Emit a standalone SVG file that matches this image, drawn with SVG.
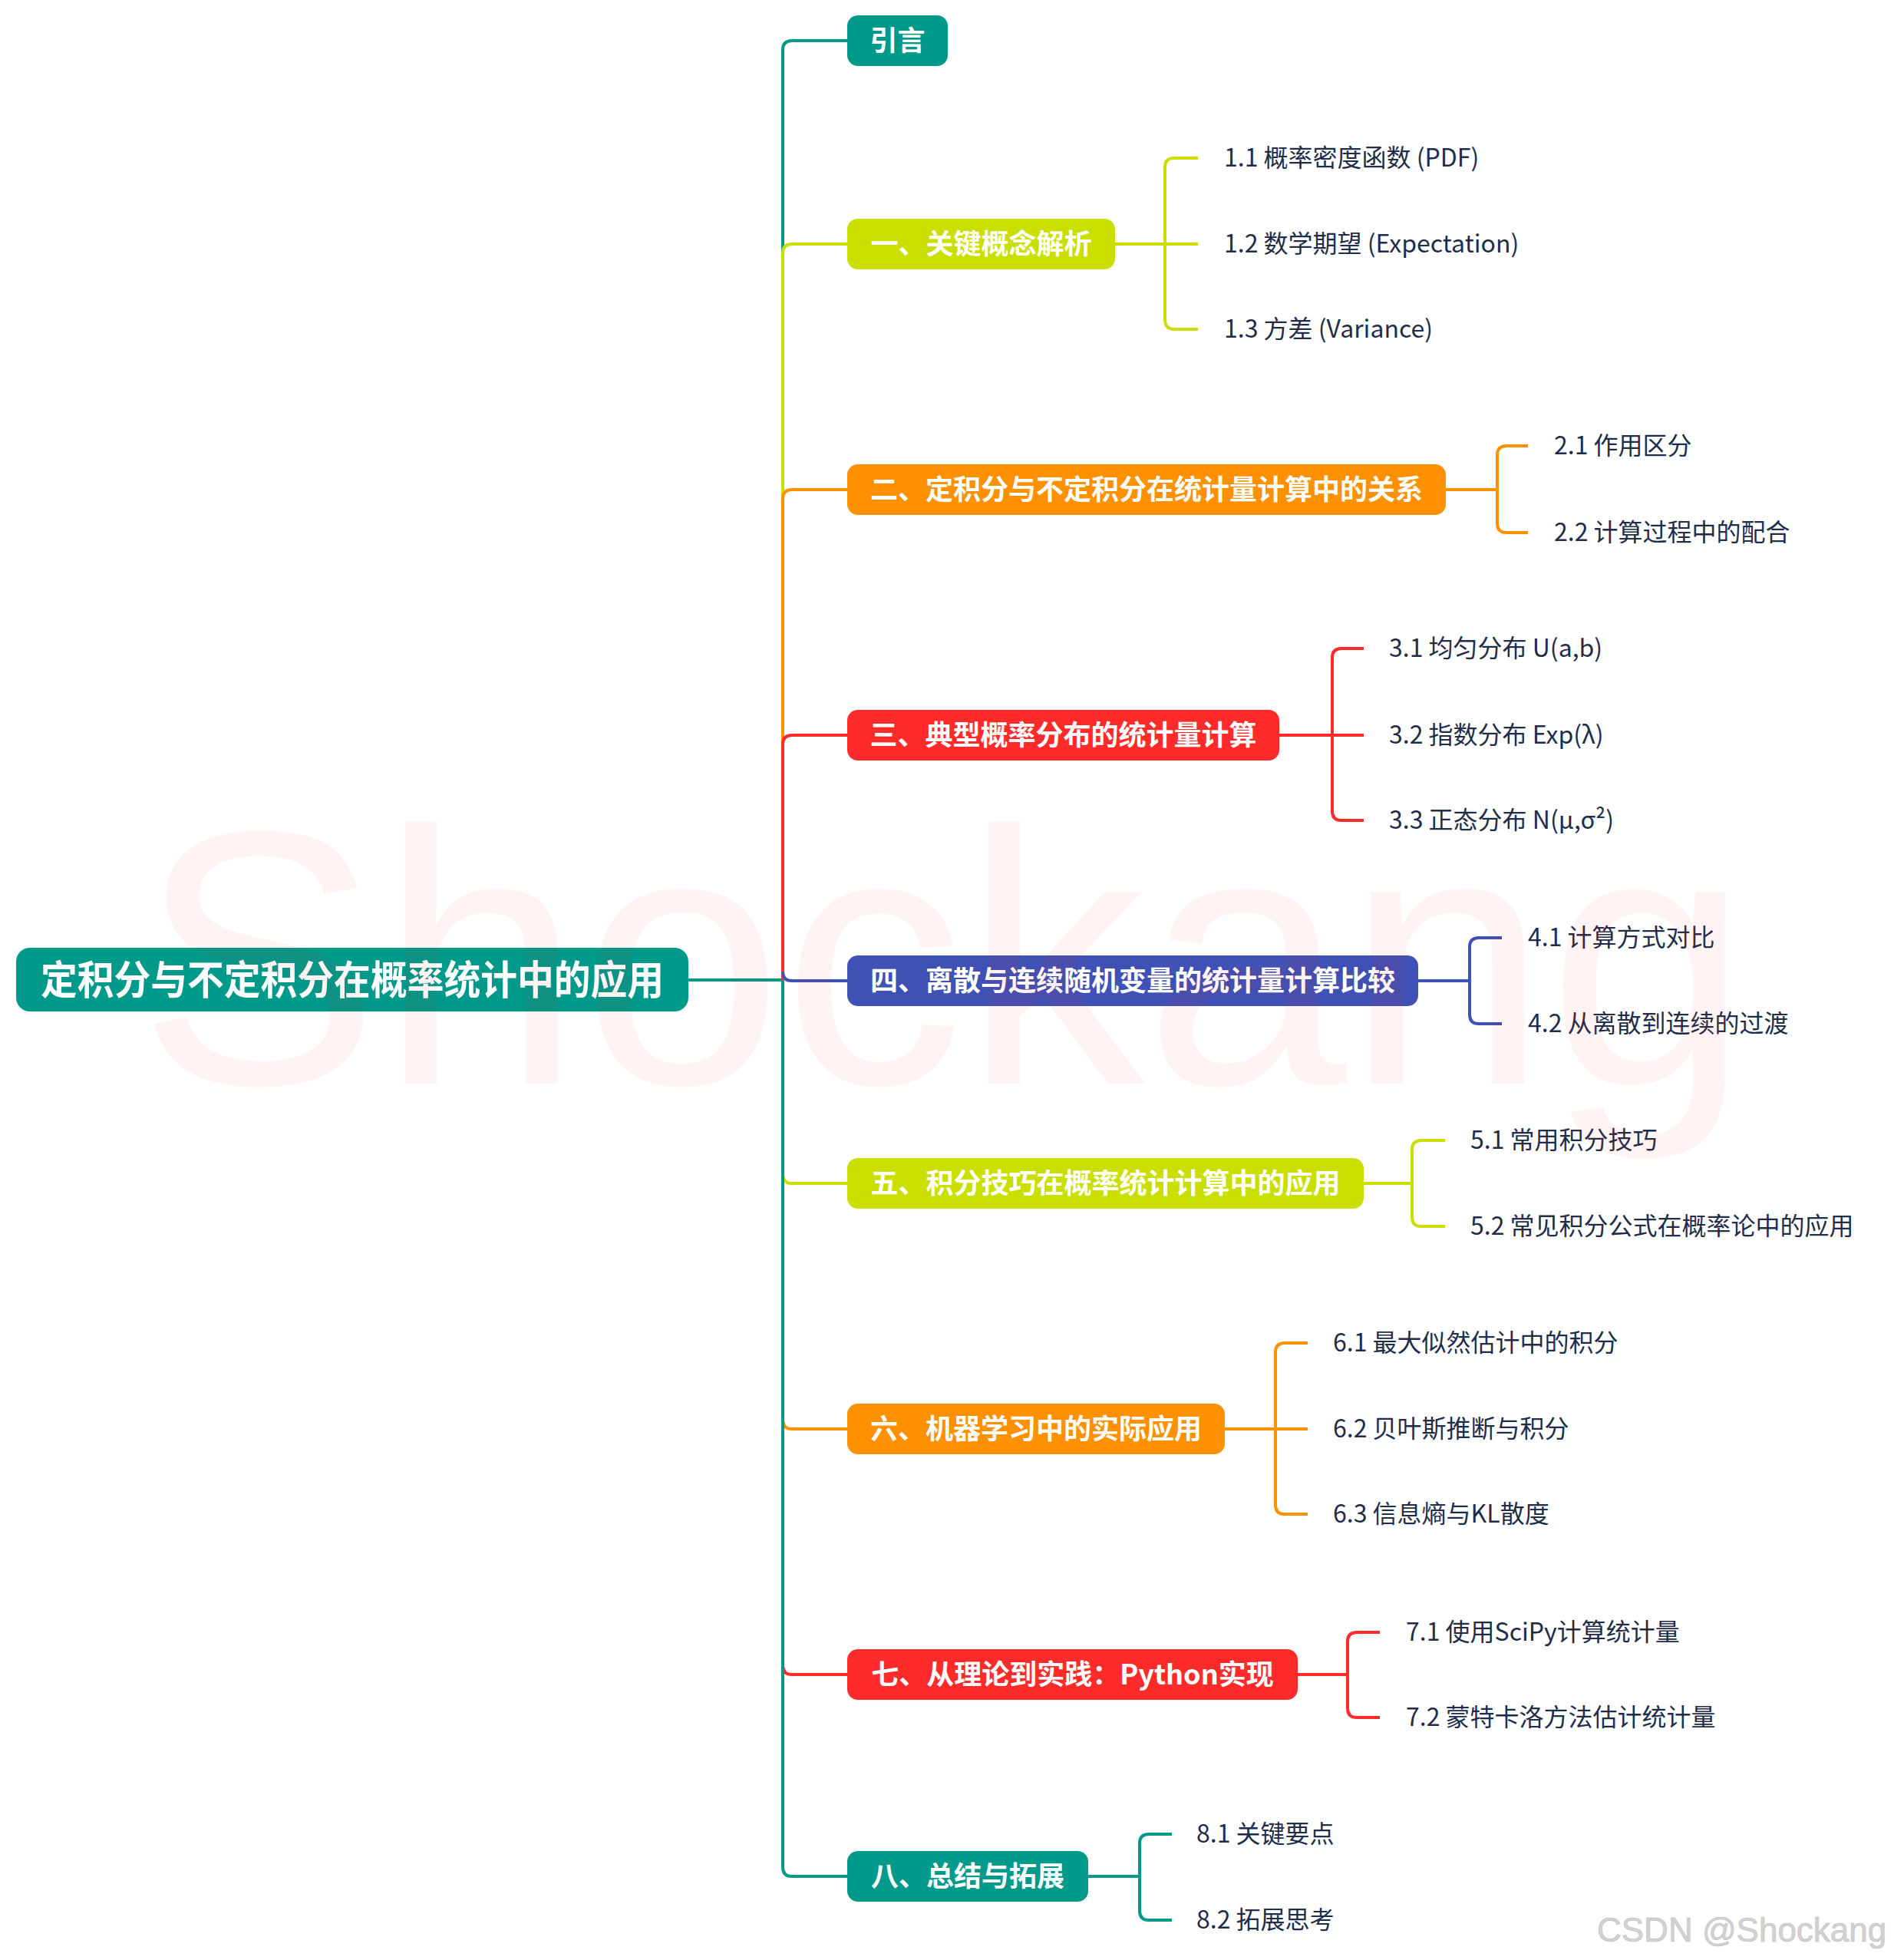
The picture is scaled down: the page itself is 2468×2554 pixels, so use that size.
<svg xmlns="http://www.w3.org/2000/svg" width="2468" height="2554" viewBox="0 0 2468 2554">
<style>
.box text{font-family:"Noto Sans CJK SC","Noto Sans",sans-serif;font-weight:700;fill:#fff;text-anchor:middle}
.t{font-family:"Noto Sans CJK SC","Noto Sans",sans-serif;font-size:32px;fill:#1f2d4a}
.c{fill:none;stroke-width:4;stroke-linecap:butt;stroke-linejoin:round}
.teal{stroke:#00998a}.lime{stroke:#cadf00}.orange{stroke:#ff9000}.red{stroke:#ff2b2b}.blue{stroke:#3f51b5}
</style>
<rect width="2468" height="2554" fill="#fff"/>
<g id="connectors">
<path class="c teal" d="M897 1277H1020"/>
<path class="c teal" d="M1020 1277V65Q1020 53 1032 53H1104"/>
<path class="c lime" d="M1020 1277V330Q1020 318 1032 318H1104"/>
<path class="c orange" d="M1020 1277V650Q1020 638 1032 638H1104"/>
<path class="c red" d="M1020 1277V970Q1020 958 1032 958H1104"/>
<path class="c blue" d="M1020 1266Q1020 1278 1032 1278H1104"/>
<path class="c lime" d="M1020 1277V1530Q1020 1542 1032 1542H1104"/>
<path class="c orange" d="M1020 1277V1850Q1020 1862 1032 1862H1104"/>
<path class="c red" d="M1020 1277V2170Q1020 2182 1032 2182H1104"/>
<path class="c teal" d="M1020 1277V2433Q1020 2445 1032 2445H1104"/>
<path class="c lime" d="M1453 318H1561M1561 206H1530Q1518 206 1518 218V417Q1518 429 1530 429H1561"/>
<path class="c orange" d="M1884 638H1951M1991 581H1963Q1951 581 1951 593V682Q1951 694 1963 694H1991"/>
<path class="c red" d="M1667 958H1777M1777 845H1748Q1736 845 1736 857V1057Q1736 1069 1748 1069H1777"/>
<path class="c blue" d="M1848 1278H1915M1957 1222H1927Q1915 1222 1915 1234V1322Q1915 1334 1927 1334H1957"/>
<path class="c lime" d="M1777 1542H1840M1883 1486H1852Q1840 1486 1840 1498V1586Q1840 1598 1852 1598H1883"/>
<path class="c orange" d="M1596 1862H1704M1704 1750H1674Q1662 1750 1662 1762V1961Q1662 1973 1674 1973H1704"/>
<path class="c red" d="M1691 2182H1756M1798 2127H1768Q1756 2127 1756 2139V2226Q1756 2238 1768 2238H1798"/>
<path class="c teal" d="M1418 2445H1485M1527 2390H1497Q1485 2390 1485 2402V2490Q1485 2502 1497 2502H1527"/>
</g>
<g id="root" class="box"><rect x="21" y="1235" width="876" height="83" rx="18" fill="#00998a"/><text x="459" y="1296" font-size="52" textLength="812" lengthAdjust="spacingAndGlyphs">定积分与不定积分在概率统计中的应用</text></g>
<g id="n0" class="box"><rect x="1104" y="20" width="131" height="66" rx="14" fill="#00998a"/><text x="1169.5" y="66" font-size="36">引言</text></g>
<g id="n1" class="box"><rect x="1104" y="285" width="349" height="66" rx="14" fill="#cadf00"/><text x="1278.5" y="331" font-size="36">一、关键概念解析</text></g>
<g id="n2" class="box"><rect x="1104" y="605" width="780" height="66" rx="14" fill="#ff9000"/><text x="1494" y="651" font-size="36">二、定积分与不定积分在统计量计算中的关系</text></g>
<g id="n3" class="box"><rect x="1104" y="925" width="563" height="66" rx="14" fill="#ff2b2b"/><text x="1385.5" y="971" font-size="36">三、典型概率分布的统计量计算</text></g>
<g id="n4" class="box"><rect x="1104" y="1245" width="744" height="66" rx="14" fill="#3f51b5"/><text x="1476" y="1291" font-size="36">四、离散与连续随机变量的统计量计算比较</text></g>
<g id="n5" class="box"><rect x="1104" y="1509" width="673" height="66" rx="14" fill="#cadf00"/><text x="1440.5" y="1555" font-size="36">五、积分技巧在概率统计计算中的应用</text></g>
<g id="n6" class="box"><rect x="1104" y="1829" width="492" height="66" rx="14" fill="#ff9000"/><text x="1350" y="1875" font-size="36">六、机器学习中的实际应用</text></g>
<g id="n7" class="box"><rect x="1104" y="2149" width="587" height="66" rx="14" fill="#ff2b2b"/><text x="1397.5" y="2195" font-size="36">七、从理论到实践：Python实现</text></g>
<g id="n8" class="box"><rect x="1104" y="2412" width="314" height="66" rx="14" fill="#00998a"/><text x="1261" y="2458" font-size="36">八、总结与拓展</text></g>
<g id="leaves">
<g id="l11"><text class="t" x="1595" y="217">1.1 概率密度函数 (PDF)</text></g>
<g id="l12"><text class="t" x="1595" y="329">1.2 数学期望 (Expectation)</text></g>
<g id="l13"><text class="t" x="1595" y="440">1.3 方差 (Variance)</text></g>
<g id="l21"><text class="t" x="2025" y="592">2.1 作用区分</text></g>
<g id="l22"><text class="t" x="2025" y="705">2.2 计算过程中的配合</text></g>
<g id="l31"><text class="t" x="1810" y="856">3.1 均匀分布 U(a,b)</text></g>
<g id="l32"><text class="t" x="1810" y="969">3.2 指数分布 Exp(λ)</text></g>
<g id="l33"><text class="t" x="1810" y="1080">3.3 正态分布 N(μ,σ²)</text></g>
<g id="l41"><text class="t" x="1991" y="1233">4.1 计算方式对比</text></g>
<g id="l42"><text class="t" x="1991" y="1345">4.2 从离散到连续的过渡</text></g>
<g id="l51"><text class="t" x="1916" y="1497">5.1 常用积分技巧</text></g>
<g id="l52"><text class="t" x="1916" y="1609">5.2 常见积分公式在概率论中的应用</text></g>
<g id="l61"><text class="t" x="1737" y="1761">6.1 最大似然估计中的积分</text></g>
<g id="l62"><text class="t" x="1737" y="1873">6.2 贝叶斯推断与积分</text></g>
<g id="l63"><text class="t" x="1737" y="1984">6.3 信息熵与KL散度</text></g>
<g id="l71"><text class="t" x="1832" y="2138">7.1 使用SciPy计算统计量</text></g>
<g id="l72"><text class="t" x="1832" y="2249">7.2 蒙特卡洛方法估计统计量</text></g>
<g id="l81"><text class="t" x="1559" y="2401">8.1 关键要点</text></g>
<g id="l82"><text class="t" x="1559" y="2513">8.2 拓展思考</text></g>
</g>
<text x="180" y="1412" font-family="Liberation Sans,Arial,sans-serif" font-size="472" fill="#ff2020" fill-opacity="0.055">Shockang</text>
<text x="2081" y="2530" font-family="Liberation Sans,Arial,sans-serif" font-size="44" fill="#d2d2d2" stroke="#bdbdbd" stroke-width="0.6">CSDN @Shockang</text>
</svg>
